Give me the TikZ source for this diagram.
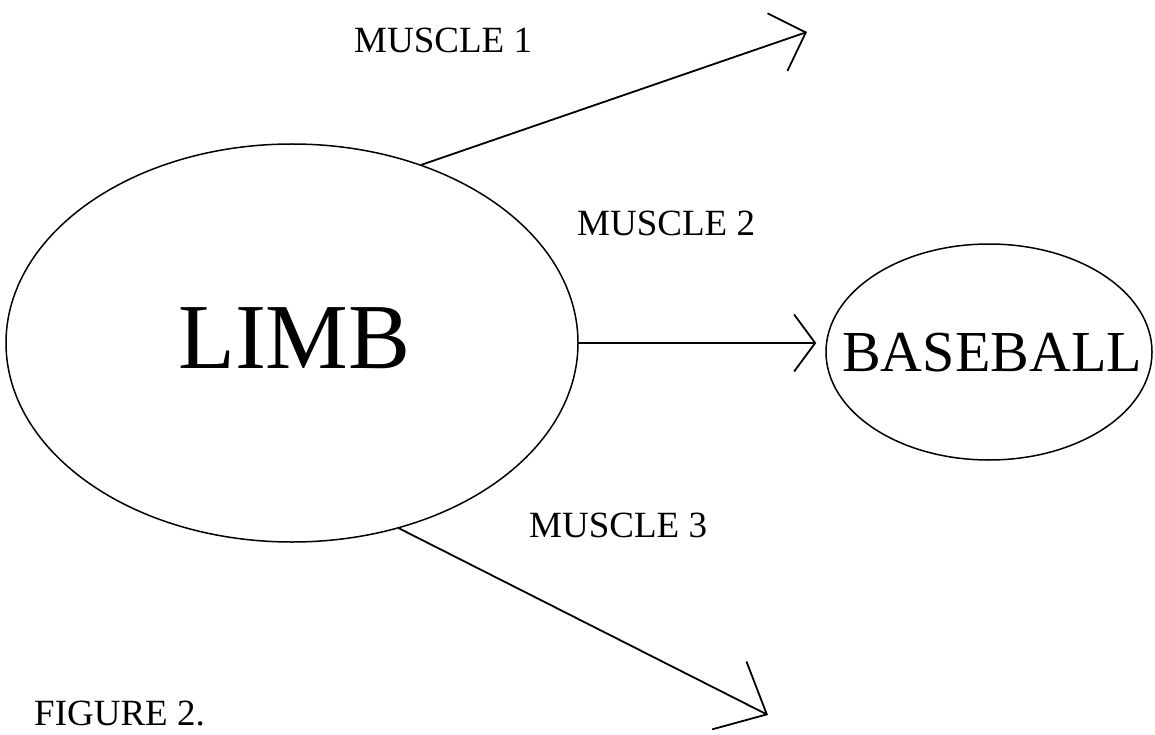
\documentclass[tikz,border=0pt]{standalone}
\usepackage{fontspec}
\setmainfont{Liberation Serif}
\usetikzlibrary{arrows.meta,shapes.geometric}
\tikzset{
  blob/.style={draw, ellipse, inner sep=0pt, line width=1.5pt},
  lbl/.style={inner sep=0pt, anchor=base west, font=\fontsize{37}{37}\selectfont},
  conn/.style={line width=1.8pt, line join=round, line cap=round},
}
\begin{document}
\begin{tikzpicture}[x=1pt,y=-1pt]
\fill[white] (0,0) rectangle (1155,735);
\useasboundingbox (0,0) rectangle (1155,735);
% ellipses
\node[blob, minimum width=572pt, minimum height=398pt] (limb) at (292,343) {};
\node[blob, minimum width=326pt, minimum height=216pt] (bb) at (989,352) {};
\node[inner sep=0pt, anchor=base west, font=\fontsize{93}{93}\selectfont] (limbtxt) at (178,368) {LIMB};
\node[inner sep=0pt, anchor=base west, font=\fontsize{58}{58}\selectfont] (bbtxt) at (842,371) {BASEBALL};
% free ends
\coordinate (t1) at (807,32);
\coordinate (t3) at (768,715);
% connectors
\draw[conn, -{Straight Barb[length=30pt,width=61pt]}] (limb.54) -- (t1);
\draw[conn, -{Straight Barb[length=21pt,width=57pt]}, shorten >=9pt] (limb.east) -- (limb.east -| bb.west);
\draw[conn, -{Straight Barb[length=42pt,width=76pt]}] (limb.-60) -- (t3);
% labels
\node[lbl] (m1) at (354,53) {MUSCLE 1};
\node[lbl] (m2) at (577,236) {MUSCLE 2};
\node[lbl] (m3) at (529,537) {MUSCLE 3};
\node[lbl] (fig) at (34,725) {FIGURE 2.};
\end{tikzpicture}
\end{document}
